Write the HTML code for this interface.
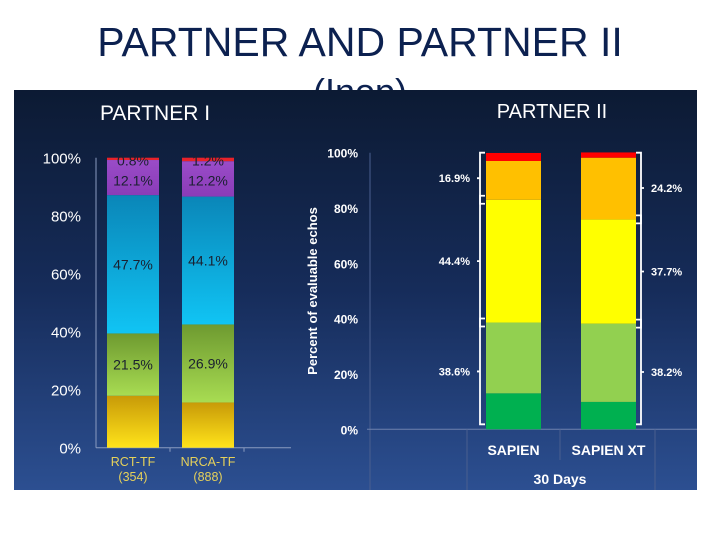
<!DOCTYPE html>
<html><head><meta charset="utf-8"><style>
body{margin:0;width:720px;height:540px;background:#fff;overflow:hidden;position:relative;font-family:"Liberation Sans",Arial,sans-serif}
.t{position:absolute;left:0;width:720px;text-align:center;color:#0c2150;font-size:41px}
svg{position:absolute;left:0;top:0}
</style></head><body>
<div class="t" style="top:19px;left:0">PARTNER AND PARTNER II</div>
<div class="t" style="top:71px;font-size:36px">(Inop)</div>
<svg id="c" width="720" height="540">
<defs>
<linearGradient id="bg" x1="0" y1="0" x2="0" y2="1"><stop offset="0" stop-color="#0c1a33"/><stop offset="0.5" stop-color="#162c5a"/><stop offset="1" stop-color="#2c4f91"/></linearGradient>
<linearGradient id="gy" x1="0" y1="0" x2="0" y2="1"><stop offset="0" stop-color="#c89a08"/><stop offset="1" stop-color="#ffe31a"/></linearGradient>
<linearGradient id="gg" x1="0" y1="0" x2="0" y2="1"><stop offset="0" stop-color="#6e9a30"/><stop offset="1" stop-color="#a8dc52"/></linearGradient>
<linearGradient id="gb" x1="0" y1="0" x2="0" y2="1"><stop offset="0" stop-color="#0a86b8"/><stop offset="1" stop-color="#10c4f4"/></linearGradient>
<linearGradient id="gp" x1="0" y1="0" x2="0" y2="1"><stop offset="0" stop-color="#9a4cc8"/><stop offset="1" stop-color="#8a3cb8"/></linearGradient>
</defs>
<rect x="14" y="90" width="683" height="400" fill="url(#bg)"/>
</svg>
<script>
// PARTNER I data (bottom to top)
const p1Cats=["RCT-TF","NRCA-TF"];
const p1N=["(354)","(888)"];
const p1Yellow=[17.9,15.6];
const p1Green=[21.5,26.9];
const p1Blue=[47.7,44.1];
const p1Purple=[12.1,12.2];
const p1Red=[0.8,1.2];
const p1Ticks=[0,20,40,60,80,100];
// PARTNER II data (bottom to top)
const p2Cats=["SAPIEN","SAPIEN XT"];
const p2DarkGreen=[13.0,9.9];
const p2LightGreen=[25.6,28.3];
const p2Yellow=[44.4,37.7];
const p2Orange=[14.0,22.3];
const p2Red=[2.9,1.9];
const p2LowLabels=["38.6%","38.2%"];
const p2MidLabels=["44.4%","37.7%"];
const p2HighLabels=["16.9%","24.2%"];
const p2Ticks=[0,20,40,60,80,100];

const svg=document.getElementById('c');
const NS="http://www.w3.org/2000/svg";
function mk(tag,attrs,txt){const e=document.createElementNS(NS,tag);for(const k in attrs)e.setAttribute(k,attrs[k]);if(txt!=null)e.textContent=txt;svg.appendChild(e);return e;}

// ---- PARTNER I ----
const y1=v=>447.7-v*2.9;
const b1x=[107,182], bw1=52;
let e=mk('text',{x:155,y:120,fill:'#fff','font-size':21,'text-anchor':'middle'},'PARTNER I');


e=mk('line',{x1:96,y1:y1(100),x2:96,y2:y1(0),stroke:'#8a9bc0','stroke-width':1});


e=mk('line',{x1:96,y1:y1(0),x2:291,y2:y1(0),stroke:'#8a9bc0','stroke-width':1});


[170,244].forEach(x=>{const t=mk('line',{x1:x,y1:y1(0),x2:x,y2:y1(0)+4,stroke:'#8a9bc0'});});
p1Ticks.forEach(t=>{const l=mk('text',{x:81,y:y1(t)+6,fill:'#fff','font-size':15,'text-anchor':'end'},t+'%');});
const p1Series=[[p1Yellow,'url(#gy)',null],[p1Green,'url(#gg)',p1Green],[p1Blue,'url(#gb)',p1Blue],[p1Purple,'url(#gp)',p1Purple],[p1Red,'#e8222a',p1Red]];
p1Cats.forEach((c,i)=>{
  let base=0;
  p1Series.forEach((s,k)=>{
    const v=s[0][i];
    const r=mk('rect',{x:b1x[i],y:y1(base+v),width:bw1,height:v*2.9,fill:s[1]});
    
    
    if(s[2]){
      const ly=k==4?y1(100)+8:(k==3?y1(100)+28:y1(base+v/2)+5);
      const lt=mk('text',{x:b1x[i]+bw1/2,y:ly,fill:'#1a2030','font-size':14,'text-anchor':'middle'},v.toFixed(1)+'%');
      
      
    }
    base+=v;
  });
  let a=mk('text',{x:b1x[i]+bw1/2,y:466,fill:'#e6d15a','font-size':12.5,'text-anchor':'middle'},c);
  
  
  a=mk('text',{x:b1x[i]+bw1/2,y:481,fill:'#e6d15a','font-size':12.5,'text-anchor':'middle'},p1N[i]);
  
  
});

// ---- PARTNER II ----
const y2=v=>429.3-v*2.766;
const b2x=[486,581], bw2=55;
e=mk('text',{x:552,y:118,fill:'#fff','font-size':20,'text-anchor':'middle'},'PARTNER II');


e=mk('line',{x1:370,y1:y2(100),x2:370,y2:490,stroke:'#4a5f8f','stroke-width':1});


e=mk('line',{x1:367,y1:y2(0),x2:697,y2:y2(0),stroke:'#6f82ad','stroke-width':1});


[467,560,655].forEach(x=>{const t=mk('line',{x1:x,y1:y2(0),x2:x,y2:x==560?460:490,stroke:'#4a5f8f'});});
p2Ticks.forEach(t=>{const l=mk('text',{x:358,y:y2(t)+5,fill:'#fff','font-size':12,'font-weight':'bold','text-anchor':'end'},t+'%');});
e=mk('text',{x:0,y:0,fill:'#fff','font-size':13,'font-weight':'bold','text-anchor':'middle',transform:'translate(317,291) rotate(-90)'},'Percent of evaluable echos');


const p2Series=[[p2DarkGreen,'#00b050'],[p2LightGreen,'#92d050'],[p2Yellow,'#ffff00'],[p2Orange,'#ffc000'],[p2Red,'#ff0000']];
function bracket(x,ya,yb,dir,label){
  const h=5*dir, ym=(ya+yb)/2;
  const p=mk('path',{d:`M${x+h},${ya} L${x},${ya} L${x},${yb} L${x+h},${yb} M${x},${ym} L${x-h*0.6},${ym}`,stroke:'#fff','stroke-width':1.8,fill:'none'});
  
  
  const t=mk('text',{x:dir>0?x-10:x+10,y:ym+4,fill:'#fff','font-size':11,'font-weight':'bold','text-anchor':dir>0?'end':'start'},label);
  
  
}
p2Cats.forEach((c,i)=>{
  let base=0;
  p2Series.forEach(s=>{
    const v=s[0][i];
    const r=mk('rect',{x:b2x[i],y:y2(base+v),width:bw2,height:v*2.766,fill:s[1]});
    
    
    base+=v;
  });
  const low=p2DarkGreen[i]+p2LightGreen[i], mid=low+p2Yellow[i];
  const bx=i==0?b2x[i]-6:b2x[i]+bw2+5, dir=i==0?1:-1;
  bracket(bx,y2(low)-4,y2(0)-5,dir,p2LowLabels[i]);
  bracket(bx,y2(mid)-4,y2(low)+4,dir,p2MidLabels[i]);
  bracket(bx,y2(100),y2(mid)+4,dir,p2HighLabels[i]);
  const a=mk('text',{x:b2x[i]+bw2/2,y:455,fill:'#fff','font-size':14,'font-weight':'bold','text-anchor':'middle'},c);
  
  
});
e=mk('text',{x:560,y:484,fill:'#fff','font-size':14,'font-weight':'bold','text-anchor':'middle'},'30 Days');


</script>
</body></html>
